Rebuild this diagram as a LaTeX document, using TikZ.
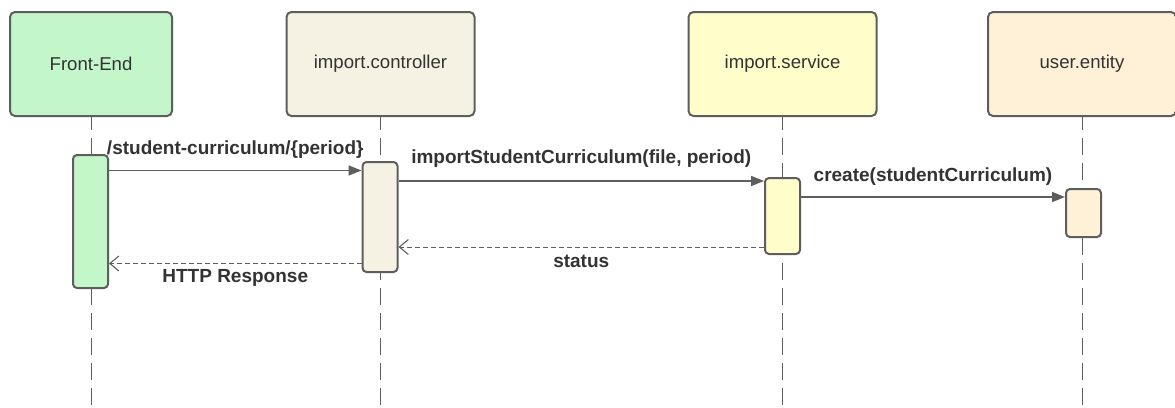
\documentclass[tikz,border=0pt]{standalone}
\usepackage{fontspec}
\setmainfont{Liberation Sans}
\usetikzlibrary{arrows.meta}
\definecolor{fefill}{HTML}{C3F7C9}
\definecolor{icfill}{HTML}{F5F2E3}
\definecolor{isfill}{HTML}{FFFDCA}
\definecolor{uefill}{HTML}{FFF1D8}
\definecolor{edge}{HTML}{5E5E5E}
\definecolor{txt}{HTML}{333333}
\tikzset{
  head/.style={draw=edge, line width=2pt, rounded corners=5pt, minimum width=188pt, minimum height=104pt, inner sep=0pt, text=txt, font=\fontsize{18.6}{22}\selectfont},
  actbar/.style={draw=edge, line width=2pt, rounded corners=4pt, minimum width=35pt, inner sep=0pt},
  lifeline/.style={draw=edge, line width=1pt, dash pattern=on 17pt off 8pt, dash phase=4pt},
  call/.style={draw=edge, line width=1.6pt, -{Triangle[length=13pt,width=10pt]}},
  ret/.style={draw=edge, line width=1pt, dash pattern=on 5pt off 3pt, -{Straight Barb[length=9pt,width=15pt,line width=1.1pt]}},
  msg/.style={text=txt, font=\bfseries\fontsize{19}{22}\selectfont, inner sep=0pt}
}
\begin{document}
\begin{tikzpicture}[x=1pt,y=-1pt]
\clip (0,0) rectangle (1175,407);
\fill[white] (0,0) rectangle (1175,407);
% headers
\node[head, fill=fefill, minimum width=162pt] (fe) at (91,64) {Front-End};
\node[head, fill=icfill] (ic) at (380.5,64) {import.controller};
\node[head, fill=isfill] (is) at (782.5,64) {import.service};
\node[head, fill=uefill] (ue) at (1082,64) {user.entity};
% bottom ends of lifelines
\coordinate (bot) at (0,410);
\draw[lifeline] (fe.south) -- (fe.south |- bot);
\draw[lifeline] (ic.south) -- (ic.south |- bot);
\draw[lifeline] (is.south) -- (is.south |- bot);
\draw[lifeline] (ue.south) -- (ue.south |- bot);
% activation bars
\node[actbar, fill=fefill, minimum height=133pt] (feb) at (90.5,221.5) {};
\node[actbar, fill=icfill, minimum height=110pt] (icb) at (380,217) {};
\node[actbar, fill=isfill, minimum height=76pt] (isb) at (782.5,216) {};
\node[actbar, fill=uefill, minimum height=48pt] (ueb) at (1083.5,213) {};
% message levels
\coordinate (y1) at (0,170.5);
\coordinate (y2) at (0,181);
\coordinate (y3) at (0,197);
\coordinate (y4) at (0,247);
\coordinate (y5) at (0,263.5);
\draw[call] (feb.east |- y1) -- node[msg, midway, yshift=21pt] {/student-curriculum/\{period\}} (icb.west |- y1);
\draw[call] (icb.east |- y2) -- node[msg, midway, yshift=22pt] {importStudentCurriculum(file, period)} (isb.west |- y2);
\draw[call] (isb.east |- y3) -- node[msg, midway, yshift=20pt] {create(studentCurriculum)} (ueb.west |- y3);
\draw[ret] (isb.west |- y4) -- node[msg, midway, yshift=-14pt] {status} (icb.east |- y4);
\draw[ret] (icb.west |- y5) -- node[msg, midway, yshift=-14pt] {HTTP Response} (feb.east |- y5);
\end{tikzpicture}
\end{document}
